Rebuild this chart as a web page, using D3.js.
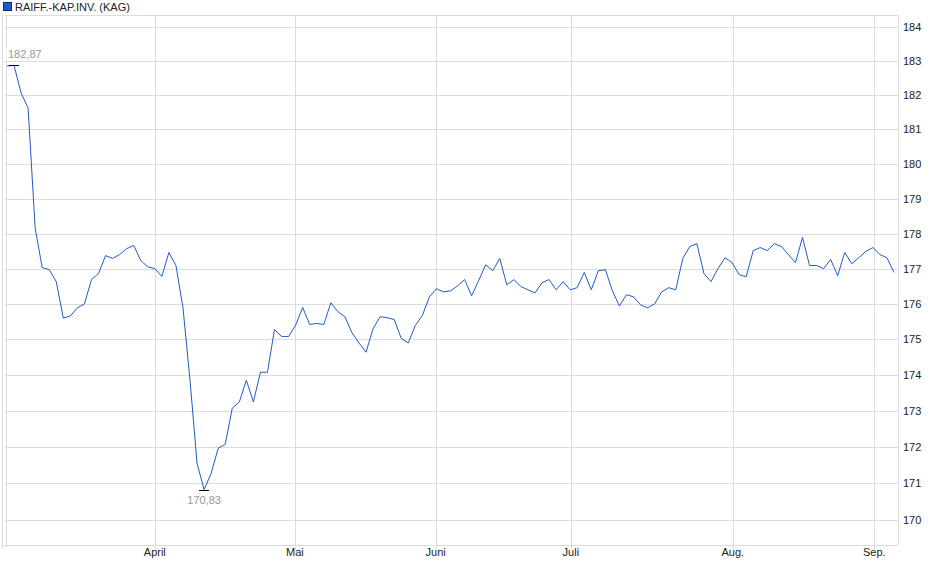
<!DOCTYPE html>
<html><head><meta charset="utf-8">
<script src="https://cdn.jsdelivr.net/npm/d3@7"></script>
<style>body{margin:0;background:#fff}svg{font-family:"Liberation Sans",Arial,sans-serif}</style>
</head><body><svg id="c" width="940" height="579"></svg>
<script>
const seriesName = "RAIFF.-KAP.INV. (KAG)";
const values = [182.85,182.87,182.06,181.62,178.15,177.03,176.97,176.63,175.6,175.66,175.89,176.0,176.69,176.86,177.37,177.29,177.40,177.57,177.66,177.23,177.05,177.0,176.78,177.46,177.09,175.89,173.85,171.55,170.83,171.28,171.97,172.08,173.08,173.25,173.86,173.25,174.08,174.08,175.28,175.08,175.08,175.4,175.9,175.42,175.45,175.42,176.03,175.78,175.64,175.19,174.9,174.64,175.3,175.64,175.61,175.56,175.03,174.9,175.39,175.67,176.2,176.43,176.34,176.37,176.51,176.69,176.23,176.66,177.11,176.94,177.29,176.54,176.69,176.49,176.4,176.31,176.6,176.69,176.4,176.63,176.4,176.46,176.89,176.4,176.94,176.97,176.37,175.94,176.26,176.2,175.97,175.89,176.0,176.34,176.46,176.4,177.29,177.63,177.71,176.86,176.63,177.0,177.31,177.17,176.83,176.77,177.51,177.6,177.51,177.71,177.63,177.4,177.17,177.89,177.09,177.09,177.0,177.26,176.8,177.46,177.14,177.31,177.49,177.6,177.4,177.31,176.89];
const monthLabels = ["April","Mai","Juni","Juli","Aug.","Sep."];
const monthIndex = [21.0,40.9,60.9,80.1,103.1,123.2];
const yTicks = [170,171,172,173,174,175,176,177,178,179,180,181,182,183,184];
const maxLabel = "182,87", minLabel = "170,83";

const svg = d3.select("#c");
const L=5, R=898, T=15, B=545;
const x = d3.scaleLinear().domain([0, values.length-1]).range([7, 894]);
const y = d3.scaleLog().domain([170,184]).range([520,27]);
const grid="#dcdcdc";

// horizontal grid
svg.append("g").selectAll("line").data(yTicks).join("line")
  .attr("x1",L).attr("x2",R).attr("y1",d=>Math.round(y(d))+0.5).attr("y2",d=>Math.round(y(d))+0.5)
  .attr("stroke",grid);
// vertical grid
svg.append("g").selectAll("line").data(monthIndex).join("line")
  .attr("x1",d=>Math.round(x(d))+0.5).attr("x2",d=>Math.round(x(d))+0.5).attr("y1",T).attr("y2",B+4)
  .attr("stroke",grid);
svg.append("line").attr("x1",6.5).attr("x2",6.5).attr("y1",T).attr("y2",B+3).attr("stroke",grid);
svg.append("line").attr("x1",2.5).attr("x2",2.5).attr("y1",T).attr("y2",B+3).attr("stroke",grid);
// frame
svg.append("line").attr("x1",L).attr("x2",R).attr("y1",T+0.5).attr("y2",T+0.5).attr("stroke",grid);
svg.append("line").attr("x1",2).attr("x2",R).attr("y1",B+0.5).attr("y2",B+0.5).attr("stroke",grid);
svg.append("line").attr("x1",R+0.5).attr("x2",R+0.5).attr("y1",T).attr("y2",B).attr("stroke",grid);

// y labels
svg.append("g").selectAll("text").data(yTicks).join("text")
  .attr("x",903).attr("y",d=>y(d)+4).attr("font-size",11).attr("fill","#222").text(d=>d);
// x labels
svg.append("g").selectAll("text").data(monthLabels).join("text")
  .attr("x",(d,i)=>x(monthIndex[i])).attr("y",556).attr("text-anchor","middle")
  .attr("font-size",11).attr("fill","#222").text(d=>d);

// line
svg.append("path").datum(values)
  .attr("d",d3.line().x((d,i)=>x(i)).y(d=>y(d)))
  .attr("fill","none").attr("stroke","#1f5bc6").attr("stroke-width",1);

// extremes
const iMax = d3.maxIndex(values), iMin = d3.minIndex(values);
[[iMax],[iMin]].forEach(([i])=>{
  svg.append("line").attr("x1",x(i)-5).attr("x2",x(i)+5).attr("y1",Math.round(y(values[i]))+0.5)
    .attr("y2",Math.round(y(values[i]))+0.5).attr("stroke","#000");
});
svg.append("rect").attr("x",6).attr("y",48).attr("width",38).attr("height",13).attr("fill","#fff").attr("opacity",0.8);
svg.append("text").attr("x",8).attr("y",58).attr("font-size",11).attr("fill","#999").text(maxLabel);
svg.append("text").attr("x",x(iMin)).attr("y",504).attr("text-anchor","middle").attr("font-size",11).attr("fill","#999").text(minLabel);

// legend
svg.append("rect").attr("x",3.5).attr("y",2.5).attr("width",8).attr("height",8).attr("fill","#1f5bc6").attr("stroke","#0a2a6a");
svg.append("text").attr("x",15).attr("y",10.5).attr("font-size",11).attr("fill","#222").text(seriesName);
</script></body></html>
